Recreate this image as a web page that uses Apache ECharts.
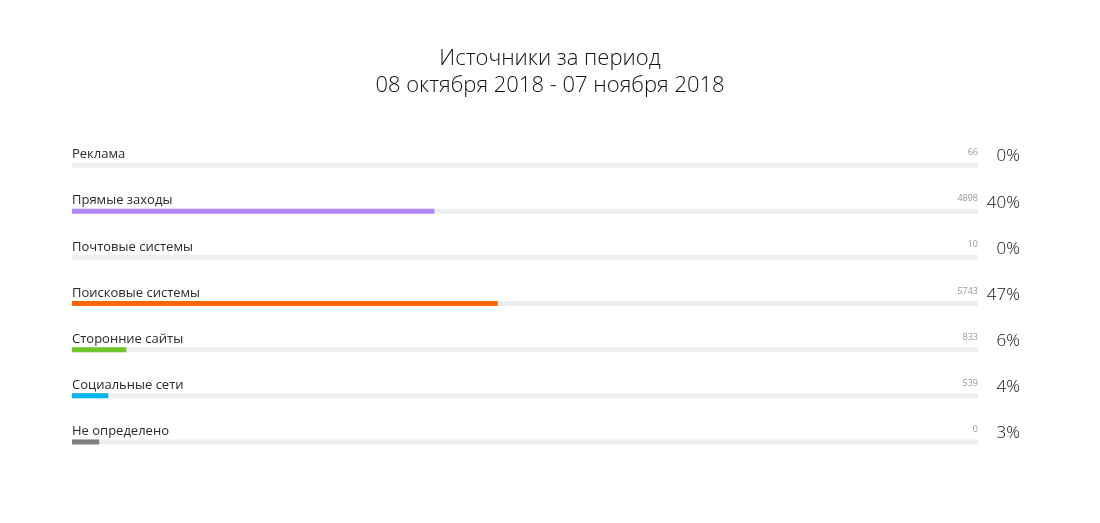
<!DOCTYPE html>
<html>
<head>
<meta charset="utf-8">
<script src="https://cdn.jsdelivr.net/npm/echarts@6/dist/echarts.min.js"></script>
<style>html,body{margin:0;padding:0;background:#fff}#c{width:1100px;height:523px}</style>
</head>
<body>
<div id="c"></div>
<script>
const titleText = 'Источники за период\n08 октября 2018 - 07 ноября 2018';
const categories = ['Реклама', 'Прямые заходы', 'Почтовые системы', 'Поисковые системы', 'Сторонние сайты', 'Социальные сети', 'Не определено'];
const counts = [66, 4898, 10, 5743, 833, 539, 0];
const percents = [0, 40, 0, 47, 6, 4, 3];
const colors = ['#cccccc', '#b388ff', '#cccccc', '#ff6600', '#6cc62c', '#00b4f0', '#808080'];

const font = '"Open Sans", "Noto Sans", sans-serif';
const chart = echarts.init(document.getElementById('c'));
chart.setOption({
  animation: false,
  title: {
    text: titleText,
    left: 'center',
    top: 40,
    textStyle: { fontFamily: font, fontWeight: 300, fontSize: 22, lineHeight: 27, color: '#111' }
  },
  grid: { left: 72, right: 122, top: 142, bottom: 58 },
  xAxis: { type: 'value', min: 0, max: 100, show: false },
  yAxis: [
    {
      type: 'category', data: categories, inverse: true,
      axisLine: { show: false }, axisTick: { show: false },
      axisLabel: {
        inside: true, margin: 0, verticalAlign: 'bottom', padding: [0, 0, 4, 0],
        fontFamily: font, fontSize: 13, color: '#2a2a2a'
      }
    },
    {
      type: 'category', data: counts.map(String), inverse: true, position: 'right',
      axisLine: { show: false }, axisTick: { show: false },
      axisLabel: {
        inside: true, margin: 0, align: 'right', verticalAlign: 'bottom', padding: [0, 0, 8, 0],
        fontFamily: font, fontSize: 9, color: '#999'
      }
    },
    {
      type: 'category', data: percents.map(p => p + '%'), inverse: true, position: 'right',
      axisLine: { show: false }, axisTick: { show: false },
      axisLabel: {
        inside: false, margin: 42, align: 'right', verticalAlign: 'bottom',
        fontFamily: font, fontWeight: 300, fontSize: 17, color: '#111'
      }
    }
  ],
  series: [{
    type: 'bar',
    yAxisIndex: 0,
    barWidth: 5,
    showBackground: true,
    backgroundStyle: { color: '#eeeeee' },
    data: percents.map((v, i) => ({ value: v, itemStyle: { color: colors[i] } }))
  }]
});
</script>
</body>
</html>
